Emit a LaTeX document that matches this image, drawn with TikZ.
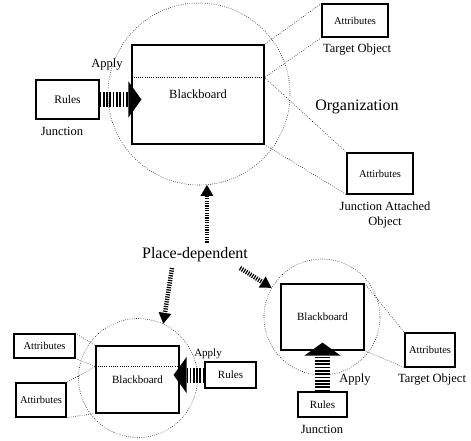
\documentclass[tikz,border=0pt]{standalone}
\usepackage{fontspec}
\setmainfont{Liberation Serif}
\usetikzlibrary{arrows.meta,positioning,calc}

\begin{document}
\begin{tikzpicture}[x=1pt,y=-1pt,
  every node/.style={inner sep=0pt,align=center},%
  bx/.style={draw,line width=1.1pt},%
  ci/.style={circle,draw,dash pattern=on .6pt off 1.6pt,line width=.6pt},%
  dl/.style={dash pattern=on .6pt off 1.6pt,line width=.6pt},%
  ha/.style={line width=15pt,dash pattern=on 1.7pt off 1.6pt,%
    -{Triangle[length=13pt,width=36pt,line width=0pt]}},%
  pa/.style={line width=4.5pt,dash pattern=on 1.2pt off 1.2pt,%
    -{Triangle[length=11pt,width=13pt,line width=0pt]}},%
  f/.style={font=\fontsize{#1}{#1}\selectfont},%
  ]
  \useasboundingbox (0,0) rectangle (471,441);
  % upper board
  \node (c1) [ci,minimum size=182pt] at (199,94) {};
  \node (bb1) [bx,f=12.5,minimum width=132pt,minimum height=99pt] at (198,94.5) {Blackboard};
  \coordinate (m1w) at ($(bb1.north west)!.33!(bb1.south west)$);
  \coordinate (m1e) at ($(bb1.north east)!.33!(bb1.south east)$);
  \draw [dl] (m1w) -- (m1e);
  \node (r1) [bx,f=11.5,minimum width=63pt,minimum height=39pt] at (67.5,99.5) {Rules};
  \node (j1) [f=12.5] at (62,131) {Junction};
  \node (ap1) [f=12.5] at (107,65) {Apply};
  \coordinate (t1) at ($(bb1.west)+(10pt,0)$);
  \draw [ha] (r1.east) -- (r1.east -| t1);
  \node (a1) [bx,f=10.5,minimum width=66pt,minimum height=33pt] at (355,20.5) {Attributes};
  \node (to1) [f=12.5] at (357,50) {Target Object};
  \node (a2) [bx,f=10.5,minimum width=66pt,minimum height=41pt] at (380,173.5) {Attirbutes};
  \node (ja) [font=\fontsize{12.5}{15}\selectfont] at (385,215) {Junction Attached\\Object};
  \node (og) [f=16] at (357,107) {Organization};
  \draw [dl] (a1.north west) -- (bb1.north east);
  \draw [dl] (a1.south west) -- (m1e) -- (a2.north west);
  \draw [dl] (bb1.south east) -- (a2.south west);
  % place-dependent
  \node (pd) [f=16] at (195,255) {Place-dependent};
  \node (c2) [ci,minimum size=119pt] at (138,378) {};
  \node (c3) [ci,minimum size=116pt] at (322,317) {};
  \coordinate (s2) at (172,268);
  \coordinate (s3) at (240,268);
  \draw [pa,shorten <=5pt] (c1.-85 |- pd.north) -- (c1.-85);
  \draw [pa] (s2) -- (c2.65);
  \draw [pa] (s3) -- (c3.150);
  % lower left board
  \node (bb2) [bx,f=11,minimum width=83pt,minimum height=67pt] at (137.5,379.5) {Blackboard};
  \coordinate (m2w) at ($(bb2.north west)!.31!(bb2.south west)$);
  \coordinate (m2e) at ($(bb2.north east)!.31!(bb2.south east)$);
  \draw [dl] (m2w) -- (m2e);
  \node (at1) [bx,f=10.5,minimum width=61pt,minimum height=24pt] at (44.5,346) {Attributes};
  \node (at2) [bx,f=10.5,minimum width=50pt,minimum height=34pt] at (41,400) {Attirbutes};
  \draw [dl] (at1.north east) -- (bb2.north west);
  \draw [dl] (at1.south east) -- (m2w) -- (at2.north east);
  \draw [dl] (at2.south east) -- (bb2.south west);
  \node (r2) [bx,f=11,minimum width=51pt,minimum height=26pt] at (230.5,375) {Rules};
  \node (ap2) [f=11] at (208,354) {Apply};
  \coordinate (t2) at ($(bb2.east)+(-6pt,0)$);
  \draw [ha] (r2.west) -- (r2.west -| t2);
  % lower right board
  \node (bb3) [bx,f=11,minimum width=83pt,minimum height=66pt] at (322.5,317) {Blackboard};
  \node (at3) [bx,f=10.5,minimum width=50pt,minimum height=34pt] at (430,350) {Attributes};
  \node (to3) [f=12.5] at (432,380) {Target Object};
  \draw [dl] (bb3.north east) -- (at3.north west);
  \draw [dl] (bb3.south east) -- (at3.south west);
  \node (r3) [bx,f=11,minimum width=49pt,minimum height=25pt] at (322.5,404.5) {Rules};
  \node (j3) [f=12.5] at (322,429) {Junction};
  \node (ap3) [f=12.5] at (355,380) {Apply};
  \coordinate (t3) at ($(bb3.south)+(0,8pt)$);
  \draw [ha] (r3.north) -- (r3.north |- t3);
\end{tikzpicture}
\end{document}
